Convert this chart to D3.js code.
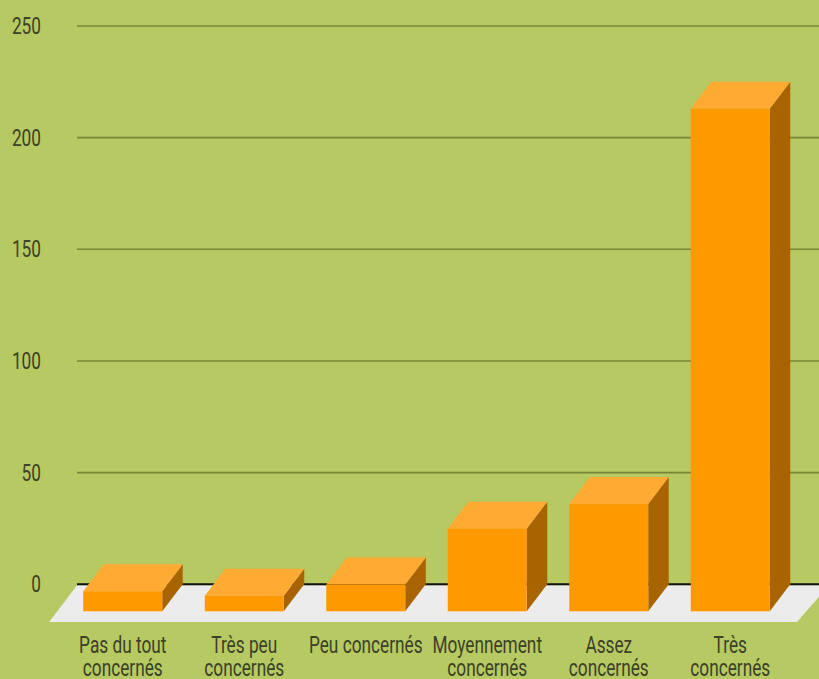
<!DOCTYPE html>
<html>
<head>
<meta charset="utf-8">
<script src="https://cdn.jsdelivr.net/npm/d3@7"></script>
<style>
  html, body { margin: 0; padding: 0; background: #b6c962; }
  svg { display: block; }
  text { font-family: Roboto, "Liberation Sans", sans-serif; fill: #3c4127; }
</style>
</head>
<body>
<svg id="chart" width="819" height="679"></svg>
<script>
// ---- data ----
const categories = ["Pas du tout concernés", "Très peu concernés", "Peu concernés", "Moyennement concernés", "Assez concernés", "Très concernés"];
const categoryLines = [["Pas du tout", "concernés"], ["Très peu", "concernés"], ["Peu concernés"], ["Moyennement", "concernés"], ["Assez", "concernés"], ["Très", "concernés"]];
const values = [9, 7, 12, 37, 48, 225];
const yTicks = [0, 50, 100, 150, 200, 250];

// ---- layout ----
const W = 819, H = 679;
const depthX = 20.5, depthY = 27;
const svg = d3.select("#chart");

svg.append("rect").attr("width", W).attr("height", H).attr("fill", "#b6c962");

const y = d3.scaleLinear().domain([0, 250]).range([584.3, 26]);
const x = d3.scaleBand().domain(categories).range([57, 796]).paddingInner(0.35).paddingOuter(0.216);

// gridlines (back plane)
svg.append("g").selectAll("line").data(yTicks.filter(d => d !== 0)).join("line")
  .attr("x1", 77).attr("x2", W)
  .attr("y1", d => y(d)).attr("y2", d => y(d))
  .attr("stroke", "#76873a").attr("stroke-width", 1.6);

// floor
const floorTop = y(0) + 1, floorBottom = 622;
const floorDx = (floorBottom - floorTop) * depthX / depthY;
svg.append("polygon")
  .attr("points", [[77, floorTop], [W + 10, floorTop], [797 + 0, floorBottom], [77 - floorDx, floorBottom]].map(p => p.join(",")).join(" "))
  .attr("fill", "#ececec");

// zero line
svg.append("line").attr("x1", 77).attr("x2", W).attr("y1", y(0)).attr("y2", y(0))
  .attr("stroke", "#111").attr("stroke-width", 2);

// y tick labels
svg.append("g").selectAll("text").data(yTicks).join("text")
  .attr("transform", d => `translate(41,${y(d) + 8}) scale(0.75,1)`)
  .attr("text-anchor", "end")
  .attr("font-size", 23)
  .text(d => d);

// bars
const bw = x.bandwidth();
const bars = svg.append("g").selectAll("g").data(categories.map((c, i) => ({c, v: values[i]}))).join("g");
const yb = y(0) + depthY;
bars.append("polygon") // side
  .attr("points", d => {
    const xf = x(d.c), yt = y(d.v) + depthY;
    return [[xf + bw, yt], [xf + bw + depthX, yt - depthY], [xf + bw + depthX, yb - depthY], [xf + bw, yb]].map(p => p.join(",")).join(" ");
  })
  .attr("fill", "#a86400");
bars.append("polygon") // top
  .attr("points", d => {
    const xf = x(d.c), yt = y(d.v) + depthY;
    return [[xf, yt], [xf + depthX, yt - depthY], [xf + bw + depthX, yt - depthY], [xf + bw, yt]].map(p => p.join(",")).join(" ");
  })
  .attr("fill", "#ffab33");
bars.append("rect") // front
  .attr("x", d => x(d.c))
  .attr("y", d => y(d.v) + depthY)
  .attr("width", bw)
  .attr("height", d => yb - (y(d.v) + depthY))
  .attr("fill", "#ff9900");

// category labels
const lab = svg.append("g").selectAll("g").data(categories).join("g")
  .attr("transform", d => `translate(${x(d) + bw / 2},0)`);
lab.each(function(d, i) {
  const g = d3.select(this);
  categoryLines[i].forEach((line, j) => {
    g.append("text")
      .attr("transform", `translate(0,${653 + j * 23}) scale(0.75,1)`)
      .attr("text-anchor", "middle")
      .attr("font-size", 23)
      .text(line);
  });
});
</script>
</body>
</html>
